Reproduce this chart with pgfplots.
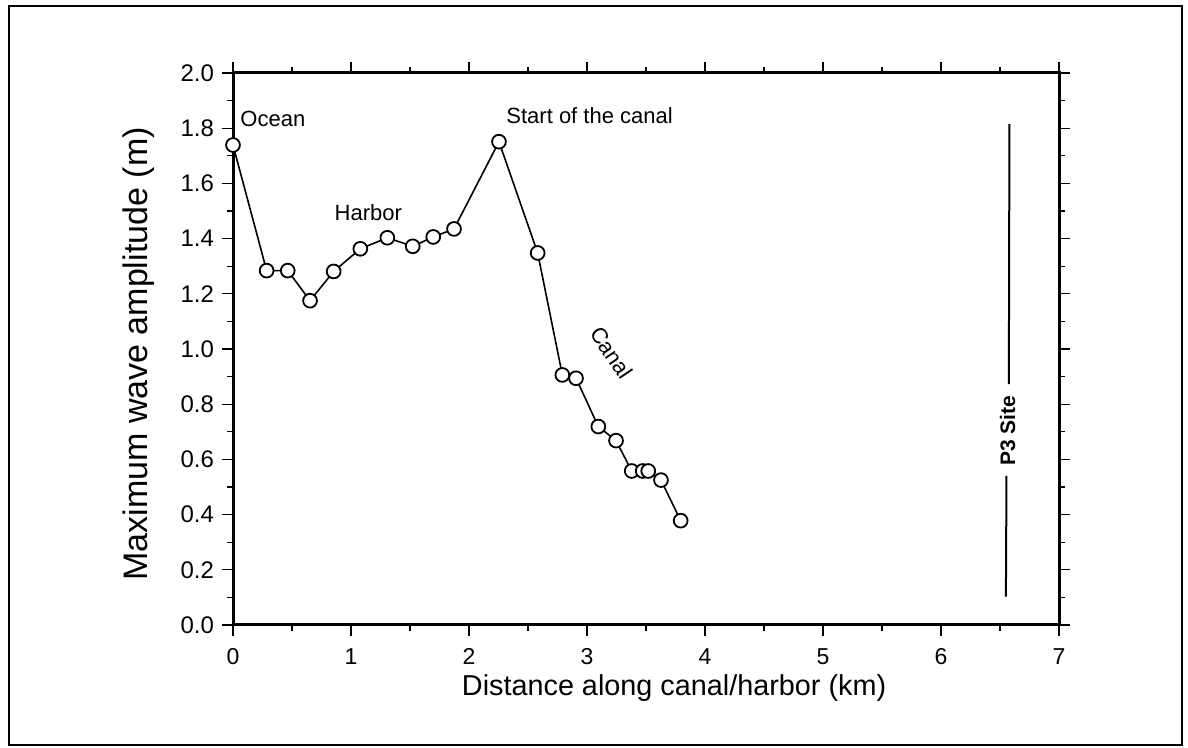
\documentclass[border=0pt]{standalone}
\usepackage{pgfplots}
\pgfplotsset{compat=1.18}
\usepackage{fontspec}
\setmainfont{Liberation Sans}
\begin{document}
\begin{tikzpicture}[x=1pt,y=1pt]
\useasboundingbox (0,0) rectangle (594,374);
\draw[line width=1.2pt] (4.5,1.5) rectangle (591,371);
\begin{axis}[
  at={(116.5pt,61.5pt)}, anchor=south west, scale only axis,
  width=413pt, height=276pt,
  xmin=0, xmax=7, ymin=0, ymax=2,
  xtick={0,1,2,3,4,5,6,7},
  ytick={0,0.2,0.4,0.6,0.8,1.0,1.2,1.4,1.6,1.8,2.0},
  minor x tick num=1, minor y tick num=1,
  tick align=outside, major tick length=5.5pt, minor tick length=3pt,
  tick pos=both,
  axis line style={line width=1.5pt},
  every tick/.style={black, line width=0.6pt},
  /pgf/number format/assume math mode=true,
  yticklabel style={font=\fontsize{12}{14}\selectfont, xshift=-0.5pt, /pgf/number format/.cd, fixed, fixed zerofill, precision=1},
  xticklabel style={font=\fontsize{11.5}{14}\selectfont, yshift=-2.6pt},
  xlabel={Distance along canal/harbor (km)},
  ylabel={Maximum wave amplitude (m)},
  xlabel style={font=\fontsize{14.4}{17}\selectfont, at={(axis description cs:0.534,-0.1286)}, anchor=base},
  ylabel style={font=\fontsize{17}{20}\selectfont, at={(axis description cs:-0.103,0.491)}, anchor=base},
  clip=false,
]
\addplot[black, line width=0.8pt, mark=*, mark size=3.45pt,
  mark options={line width=0.9pt, fill=white, draw=black}] coordinates {
  (0.0,1.739) (0.285,1.284) (0.464,1.284) (0.653,1.175) (0.853,1.281)
  (1.079,1.363) (1.308,1.403) (1.523,1.372) (1.697,1.406) (1.873,1.435)
  (2.254,1.751) (2.582,1.348) (2.791,0.906) (2.907,0.894) (3.096,0.719)
  (3.246,0.668) (3.379,0.558) (3.472,0.558) (3.519,0.558) (3.627,0.525)
  (3.794,0.378)
};
\addplot[black, line width=1pt] coordinates {(6.58,1.815) (6.575,0.873)};
\addplot[black, line width=1pt] coordinates {(6.555,0.540) (6.55,0.103)};
\node[anchor=west, inner sep=0pt, font=\fontsize{11}{13}\selectfont] at (axis cs:0.06,1.833) {Ocean};
\node[inner sep=0pt, font=\fontsize{11}{13}\selectfont] at (axis cs:1.147,1.495) {Harbor};
\node[anchor=west, inner sep=0pt, font=\fontsize{11}{13}\selectfont] at (axis cs:2.314,1.846) {Start of the canal};
\node[inner sep=0pt, rotate=-56, font=\fontsize{11}{13}\selectfont] at (axis cs:3.209,0.987) {Canal};
\node[inner sep=0pt, rotate=90, font=\fontsize{10.5}{13}\selectfont\bfseries] at (axis cs:6.565,0.703) {P3 Site};
\end{axis}
\end{tikzpicture}
\end{document}
